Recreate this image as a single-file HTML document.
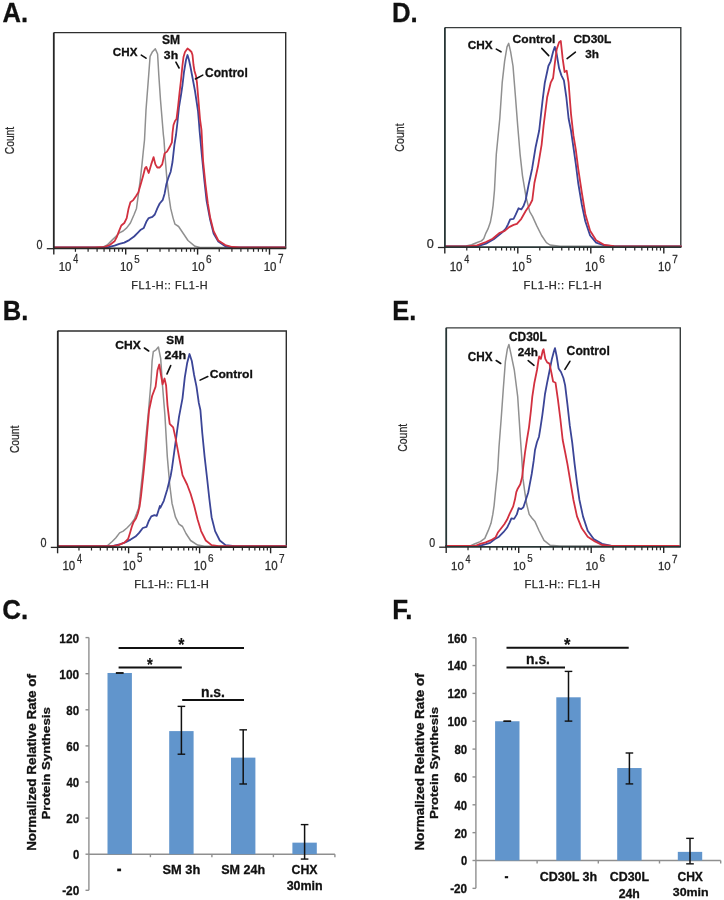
<!DOCTYPE html>
<html><head><meta charset="utf-8"><style>
html,body{margin:0;padding:0;background:#fff;}
body{width:724px;height:900px;overflow:hidden;}
svg{display:block;will-change:transform;}
</style></head><body>
<svg width="724" height="900" viewBox="0 0 724 900" font-family="'Liberation Sans', sans-serif">
<rect width="724" height="900" fill="#fff"/>
<path d="M53.80,32.60 L285.70,32.60 L285.70,248.40" fill="none" stroke="#2e2e2e" stroke-width="1.4"/>
<path d="M54.0,247.5 L100.0,247.5 L102.3,247.4 L107.2,245.0 L112.1,240.1 L115.8,236.5 L119.4,232.8 L123.1,231.0 L126.7,227.9 L130.4,223.0 L134.1,214.5 L136.5,208.4 L138.3,194.9 L140.2,180.3 L142.0,164.4 L143.2,152.2 L144.5,140.0 L146.0,110.0 L148.7,75.0 L150.1,56.3 L152.5,51.7 L155.3,48.9 L157.6,54.0 L158.8,75.0 L160.5,100.0 L163.4,135.0 L164.0,140.0 L165.2,158.3 L167.0,180.3 L168.9,196.2 L170.7,208.4 L173.1,218.1 L175.0,224.2 L178.6,226.5 L183.3,233.5 L188.0,240.5 L195.0,246.3 L200.0,247.5 L285.0,247.5" fill="none" stroke="#909090" stroke-width="1.5" stroke-linejoin="round" stroke-linecap="round"/>
<path d="M54.0,247.5 L105.0,247.5 L107.2,247.4 L114.5,245.6 L119.4,243.8 L124.3,242.6 L129.2,240.1 L134.1,236.5 L137.7,232.8 L140.8,229.7 L143.8,227.9 L146.3,221.8 L148.7,218.1 L152.4,216.9 L154.8,214.5 L157.3,208.4 L159.7,203.5 L162.8,199.8 L164.6,193.7 L166.4,184.0 L168.3,177.9 L170.7,171.7 L172.5,162.0 L174.4,144.9 L176.0,135.0 L177.5,122.0 L179.0,107.0 L181.0,95.0 L182.5,85.0 L184.0,72.0 L186.0,60.0 L187.5,55.0 L189.0,60.0 L190.5,67.0 L192.0,75.0 L193.5,83.0 L195.0,91.0 L196.5,101.0 L198.0,111.0 L199.0,123.0 L199.6,131.0 L202.0,156.6 L204.3,179.9 L206.6,200.8 L210.1,219.5 L213.6,233.5 L218.3,241.6 L225.3,246.3 L235.0,247.5 L285.0,247.5" fill="none" stroke="#3b4597" stroke-width="1.8" stroke-linejoin="round" stroke-linecap="round"/>
<path d="M54.0,247.5 L95.0,247.4 L104.8,246.8 L109.7,245.0 L114.5,241.3 L117.0,236.5 L118.8,231.6 L121.3,225.5 L124.3,223.0 L126.7,218.1 L128.6,208.4 L130.4,202.3 L132.9,200.4 L135.9,196.2 L138.3,192.5 L140.8,184.0 L143.2,175.4 L145.1,168.1 L146.3,166.9 L148.7,173.0 L151.2,164.4 L153.6,157.1 L155.4,164.4 L157.3,167.5 L159.7,167.5 L162.2,164.4 L164.6,153.4 L167.0,151.6 L169.5,147.3 L171.9,142.4 L172.5,133.0 L173.5,125.0 L175.0,121.0 L176.5,119.0 L178.0,107.0 L179.5,93.0 L181.0,80.0 L182.5,65.0 L183.5,57.0 L185.0,52.0 L187.5,48.5 L189.5,50.0 L191.5,52.0 L192.5,55.0 L193.5,65.0 L194.5,71.0 L196.0,76.0 L197.0,83.0 L198.0,95.0 L199.0,107.0 L200.0,119.0 L201.5,130.0 L203.1,161.2 L205.5,184.5 L207.8,203.2 L210.1,217.2 L213.6,231.1 L218.3,240.5 L225.3,245.1 L232.3,247.0 L240.0,247.5 L285.0,247.5" fill="none" stroke="#d2303f" stroke-width="1.8" stroke-linejoin="round" stroke-linecap="round"/>
<path d="M53.80,32.40 L53.80,248.40 L286.20,248.40" fill="none" stroke="#262626" stroke-width="1.8"/>
<line x1="46.80" y1="248.70" x2="53.80" y2="248.70" stroke="#262626" stroke-width="1.3"/>
<line x1="53.80" y1="248.40" x2="53.80" y2="254.60" stroke="#262626" stroke-width="1.4"/>
<line x1="75.44" y1="248.40" x2="75.44" y2="251.80" stroke="#262626" stroke-width="1.2"/>
<line x1="88.11" y1="248.40" x2="88.11" y2="251.80" stroke="#262626" stroke-width="1.2"/>
<line x1="97.09" y1="248.40" x2="97.09" y2="251.80" stroke="#262626" stroke-width="1.2"/>
<line x1="104.06" y1="248.40" x2="104.06" y2="251.80" stroke="#262626" stroke-width="1.2"/>
<line x1="109.75" y1="248.40" x2="109.75" y2="251.80" stroke="#262626" stroke-width="1.2"/>
<line x1="114.56" y1="248.40" x2="114.56" y2="251.80" stroke="#262626" stroke-width="1.2"/>
<line x1="118.73" y1="248.40" x2="118.73" y2="251.80" stroke="#262626" stroke-width="1.2"/>
<line x1="122.41" y1="248.40" x2="122.41" y2="251.80" stroke="#262626" stroke-width="1.2"/>
<line x1="125.70" y1="248.40" x2="125.70" y2="254.60" stroke="#262626" stroke-width="1.4"/>
<line x1="147.34" y1="248.40" x2="147.34" y2="251.80" stroke="#262626" stroke-width="1.2"/>
<line x1="160.01" y1="248.40" x2="160.01" y2="251.80" stroke="#262626" stroke-width="1.2"/>
<line x1="168.99" y1="248.40" x2="168.99" y2="251.80" stroke="#262626" stroke-width="1.2"/>
<line x1="175.96" y1="248.40" x2="175.96" y2="251.80" stroke="#262626" stroke-width="1.2"/>
<line x1="181.65" y1="248.40" x2="181.65" y2="251.80" stroke="#262626" stroke-width="1.2"/>
<line x1="186.46" y1="248.40" x2="186.46" y2="251.80" stroke="#262626" stroke-width="1.2"/>
<line x1="190.63" y1="248.40" x2="190.63" y2="251.80" stroke="#262626" stroke-width="1.2"/>
<line x1="194.31" y1="248.40" x2="194.31" y2="251.80" stroke="#262626" stroke-width="1.2"/>
<line x1="197.60" y1="248.40" x2="197.60" y2="254.60" stroke="#262626" stroke-width="1.4"/>
<line x1="219.24" y1="248.40" x2="219.24" y2="251.80" stroke="#262626" stroke-width="1.2"/>
<line x1="231.91" y1="248.40" x2="231.91" y2="251.80" stroke="#262626" stroke-width="1.2"/>
<line x1="240.89" y1="248.40" x2="240.89" y2="251.80" stroke="#262626" stroke-width="1.2"/>
<line x1="247.86" y1="248.40" x2="247.86" y2="251.80" stroke="#262626" stroke-width="1.2"/>
<line x1="253.55" y1="248.40" x2="253.55" y2="251.80" stroke="#262626" stroke-width="1.2"/>
<line x1="258.36" y1="248.40" x2="258.36" y2="251.80" stroke="#262626" stroke-width="1.2"/>
<line x1="262.53" y1="248.40" x2="262.53" y2="251.80" stroke="#262626" stroke-width="1.2"/>
<line x1="266.21" y1="248.40" x2="266.21" y2="251.80" stroke="#262626" stroke-width="1.2"/>
<line x1="269.50" y1="248.40" x2="269.50" y2="254.60" stroke="#262626" stroke-width="1.4"/>
<line x1="141.30" y1="55.20" x2="146.00" y2="58.20" stroke="#111" stroke-width="1.6" stroke-linecap="round"/>
<line x1="175.90" y1="62.10" x2="179.10" y2="68.00" stroke="#111" stroke-width="1.6" stroke-linecap="round"/>
<line x1="195.40" y1="79.00" x2="202.80" y2="75.10" stroke="#111" stroke-width="1.6" stroke-linecap="round"/>
<path d="M57.80,331.00 L286.30,331.00 L286.30,547.10" fill="none" stroke="#2e2e2e" stroke-width="1.4"/>
<path d="M58.0,546.2 L106.0,546.2 L107.3,545.7 L112.2,541.5 L115.9,537.8 L119.6,532.9 L123.2,531.1 L126.9,528.0 L130.6,524.3 L134.2,519.5 L136.7,513.3 L138.5,508.5 L139.3,503.2 L142.8,470.5 L146.3,433.2 L148.6,410.0 L151.0,382.0 L152.1,361.0 L153.3,351.7 L156.1,349.8 L158.4,347.0 L160.7,358.6 L162.6,386.6 L164.9,415.0 L167.3,456.6 L169.7,484.5 L172.0,503.2 L175.5,517.2 L179.0,524.2 L182.5,526.5 L186.0,533.5 L190.6,540.5 L197.6,545.1 L204.6,546.2 L286.0,546.2" fill="none" stroke="#909090" stroke-width="1.5" stroke-linejoin="round" stroke-linecap="round"/>
<path d="M58.0,546.2 L112.2,546.2 L119.6,544.5 L125.7,542.1 L130.6,539.6 L135.5,536.6 L139.1,532.9 L142.8,528.0 L146.5,526.8 L148.9,520.7 L151.3,516.4 L154.4,515.2 L156.8,515.8 L159.9,506.0 L160.3,507.8 L163.8,500.8 L167.3,489.2 L170.8,475.2 L172.0,468.2 L175.5,442.6 L179.0,416.9 L182.5,398.3 L184.8,377.3 L187.1,363.3 L189.5,354.0 L191.8,361.0 L194.1,375.0 L196.5,386.6 L198.8,402.9 L200.4,410.0 L202.3,433.2 L204.6,456.6 L207.0,477.5 L209.3,498.5 L211.6,517.2 L215.1,531.1 L219.8,540.5 L225.6,545.1 L234.9,546.2 L286.0,546.2" fill="none" stroke="#3b4597" stroke-width="1.8" stroke-linejoin="round" stroke-linecap="round"/>
<path d="M58.0,546.2 L112.2,546.2 L118.3,545.1 L124.4,542.7 L128.1,539.0 L130.0,532.9 L131.8,526.8 L133.6,521.9 L136.1,518.2 L137.9,513.3 L139.7,506.0 L141.0,496.2 L142.2,485.2 L143.4,474.2 L144.6,462.0 L145.8,449.8 L146.5,440.0 L149.1,410.0 L152.1,396.0 L155.6,386.6 L157.5,370.3 L159.3,364.5 L161.0,375.0 L162.6,384.3 L164.5,378.5 L166.1,385.5 L167.5,405.3 L169.7,423.9 L173.2,427.4 L175.5,437.9 L179.0,456.6 L182.5,475.2 L187.1,484.5 L190.6,493.8 L194.1,505.5 L197.6,519.5 L201.1,531.1 L205.8,540.5 L211.6,545.1 L218.6,546.2 L286.0,546.2" fill="none" stroke="#d2303f" stroke-width="1.8" stroke-linejoin="round" stroke-linecap="round"/>
<path d="M57.80,330.80 L57.80,547.10 L286.80,547.10" fill="none" stroke="#262626" stroke-width="1.8"/>
<line x1="50.80" y1="547.40" x2="57.80" y2="547.40" stroke="#262626" stroke-width="1.3"/>
<line x1="57.60" y1="547.10" x2="57.60" y2="553.30" stroke="#262626" stroke-width="1.4"/>
<line x1="78.97" y1="547.10" x2="78.97" y2="550.50" stroke="#262626" stroke-width="1.2"/>
<line x1="91.48" y1="547.10" x2="91.48" y2="550.50" stroke="#262626" stroke-width="1.2"/>
<line x1="100.35" y1="547.10" x2="100.35" y2="550.50" stroke="#262626" stroke-width="1.2"/>
<line x1="107.23" y1="547.10" x2="107.23" y2="550.50" stroke="#262626" stroke-width="1.2"/>
<line x1="112.85" y1="547.10" x2="112.85" y2="550.50" stroke="#262626" stroke-width="1.2"/>
<line x1="117.60" y1="547.10" x2="117.60" y2="550.50" stroke="#262626" stroke-width="1.2"/>
<line x1="121.72" y1="547.10" x2="121.72" y2="550.50" stroke="#262626" stroke-width="1.2"/>
<line x1="125.35" y1="547.10" x2="125.35" y2="550.50" stroke="#262626" stroke-width="1.2"/>
<line x1="128.60" y1="547.10" x2="128.60" y2="553.30" stroke="#262626" stroke-width="1.4"/>
<line x1="149.97" y1="547.10" x2="149.97" y2="550.50" stroke="#262626" stroke-width="1.2"/>
<line x1="162.48" y1="547.10" x2="162.48" y2="550.50" stroke="#262626" stroke-width="1.2"/>
<line x1="171.35" y1="547.10" x2="171.35" y2="550.50" stroke="#262626" stroke-width="1.2"/>
<line x1="178.23" y1="547.10" x2="178.23" y2="550.50" stroke="#262626" stroke-width="1.2"/>
<line x1="183.85" y1="547.10" x2="183.85" y2="550.50" stroke="#262626" stroke-width="1.2"/>
<line x1="188.60" y1="547.10" x2="188.60" y2="550.50" stroke="#262626" stroke-width="1.2"/>
<line x1="192.72" y1="547.10" x2="192.72" y2="550.50" stroke="#262626" stroke-width="1.2"/>
<line x1="196.35" y1="547.10" x2="196.35" y2="550.50" stroke="#262626" stroke-width="1.2"/>
<line x1="199.60" y1="547.10" x2="199.60" y2="553.30" stroke="#262626" stroke-width="1.4"/>
<line x1="220.97" y1="547.10" x2="220.97" y2="550.50" stroke="#262626" stroke-width="1.2"/>
<line x1="233.48" y1="547.10" x2="233.48" y2="550.50" stroke="#262626" stroke-width="1.2"/>
<line x1="242.35" y1="547.10" x2="242.35" y2="550.50" stroke="#262626" stroke-width="1.2"/>
<line x1="249.23" y1="547.10" x2="249.23" y2="550.50" stroke="#262626" stroke-width="1.2"/>
<line x1="254.85" y1="547.10" x2="254.85" y2="550.50" stroke="#262626" stroke-width="1.2"/>
<line x1="259.60" y1="547.10" x2="259.60" y2="550.50" stroke="#262626" stroke-width="1.2"/>
<line x1="263.72" y1="547.10" x2="263.72" y2="550.50" stroke="#262626" stroke-width="1.2"/>
<line x1="267.35" y1="547.10" x2="267.35" y2="550.50" stroke="#262626" stroke-width="1.2"/>
<line x1="270.60" y1="547.10" x2="270.60" y2="553.30" stroke="#262626" stroke-width="1.4"/>
<line x1="144.40" y1="348.00" x2="148.70" y2="351.00" stroke="#111" stroke-width="1.6" stroke-linecap="round"/>
<line x1="170.70" y1="365.60" x2="167.00" y2="373.90" stroke="#111" stroke-width="1.6" stroke-linecap="round"/>
<line x1="200.10" y1="380.10" x2="207.80" y2="376.50" stroke="#111" stroke-width="1.6" stroke-linecap="round"/>
<path d="M444.90,27.60 L680.80,27.60 L680.80,247.20" fill="none" stroke="#383d3d" stroke-width="1.4"/>
<path d="M445.0,246.3 L455.0,246.3 L466.0,245.9 L471.6,244.8 L477.1,242.5 L481.5,240.9 L483.7,238.7 L485.9,233.1 L488.1,228.7 L490.4,222.1 L492.0,213.3 L493.1,205.5 L494.5,190.0 L496.3,154.3 L499.8,118.5 L502.2,82.7 L504.6,61.3 L507.0,46.9 L508.7,43.4 L510.6,51.7 L513.0,66.0 L515.3,94.7 L517.7,125.7 L520.1,154.3 L522.5,175.8 L526.1,197.3 L529.7,211.6 L532.5,216.4 L536.8,225.9 L541.6,235.5 L546.4,242.6 L550.0,245.0 L560.0,246.3 L681.0,246.3" fill="none" stroke="#909090" stroke-width="1.5" stroke-linejoin="round" stroke-linecap="round"/>
<path d="M445.0,246.3 L470.0,246.3 L477.1,246.3 L485.9,243.6 L493.7,239.2 L501.4,233.1 L505.8,228.7 L508.0,224.3 L510.2,219.3 L513.6,218.8 L515.8,214.4 L518.5,208.3 L521.3,209.4 L523.5,206.1 L525.7,200.0 L528.5,185.4 L532.1,168.7 L535.6,147.2 L539.2,130.5 L542.4,101.8 L544.8,82.7 L548.4,66.0 L550.7,61.3 L553.1,51.7 L554.8,46.9 L556.7,54.1 L559.1,68.4 L561.5,75.6 L563.9,80.3 L566.3,97.0 L568.6,118.5 L571.0,130.5 L573.4,147.2 L575.8,163.9 L578.2,183.0 L581.8,204.5 L585.3,221.2 L590.1,235.5 L596.1,242.6 L604.4,245.5 L614.0,246.2 L681.0,246.3" fill="none" stroke="#3b4597" stroke-width="1.8" stroke-linejoin="round" stroke-linecap="round"/>
<path d="M445.0,246.3 L466.0,246.3 L477.1,245.3 L485.9,242.0 L492.6,238.7 L499.2,233.1 L504.7,230.9 L509.1,227.1 L513.6,224.9 L516.9,223.8 L521.3,218.8 L525.7,211.0 L530.1,204.4 L532.3,200.0 L534.4,183.0 L538.0,166.3 L541.6,144.8 L543.6,125.7 L547.2,97.0 L550.7,82.7 L553.1,78.0 L554.8,63.6 L556.7,49.3 L559.1,42.2 L560.8,41.0 L562.7,58.9 L564.6,72.0 L566.7,70.8 L568.6,82.7 L571.0,113.8 L573.4,135.2 L575.8,149.6 L578.2,168.7 L581.8,192.5 L585.3,214.0 L590.1,230.7 L596.1,240.3 L604.4,245.0 L614.0,246.2 L681.0,246.3" fill="none" stroke="#d2303f" stroke-width="1.8" stroke-linejoin="round" stroke-linecap="round"/>
<path d="M444.90,27.40 L444.90,247.20 L681.30,247.20" fill="none" stroke="#283636" stroke-width="1.8"/>
<line x1="437.90" y1="247.50" x2="444.90" y2="247.50" stroke="#262626" stroke-width="1.3"/>
<line x1="444.80" y1="247.20" x2="444.80" y2="253.40" stroke="#262626" stroke-width="1.4"/>
<line x1="466.78" y1="247.20" x2="466.78" y2="250.60" stroke="#262626" stroke-width="1.2"/>
<line x1="479.63" y1="247.20" x2="479.63" y2="250.60" stroke="#262626" stroke-width="1.2"/>
<line x1="488.75" y1="247.20" x2="488.75" y2="250.60" stroke="#262626" stroke-width="1.2"/>
<line x1="495.82" y1="247.20" x2="495.82" y2="250.60" stroke="#262626" stroke-width="1.2"/>
<line x1="501.61" y1="247.20" x2="501.61" y2="250.60" stroke="#262626" stroke-width="1.2"/>
<line x1="506.49" y1="247.20" x2="506.49" y2="250.60" stroke="#262626" stroke-width="1.2"/>
<line x1="510.73" y1="247.20" x2="510.73" y2="250.60" stroke="#262626" stroke-width="1.2"/>
<line x1="514.46" y1="247.20" x2="514.46" y2="250.60" stroke="#262626" stroke-width="1.2"/>
<line x1="517.80" y1="247.20" x2="517.80" y2="253.40" stroke="#262626" stroke-width="1.4"/>
<line x1="539.78" y1="247.20" x2="539.78" y2="250.60" stroke="#262626" stroke-width="1.2"/>
<line x1="552.63" y1="247.20" x2="552.63" y2="250.60" stroke="#262626" stroke-width="1.2"/>
<line x1="561.75" y1="247.20" x2="561.75" y2="250.60" stroke="#262626" stroke-width="1.2"/>
<line x1="568.82" y1="247.20" x2="568.82" y2="250.60" stroke="#262626" stroke-width="1.2"/>
<line x1="574.61" y1="247.20" x2="574.61" y2="250.60" stroke="#262626" stroke-width="1.2"/>
<line x1="579.49" y1="247.20" x2="579.49" y2="250.60" stroke="#262626" stroke-width="1.2"/>
<line x1="583.73" y1="247.20" x2="583.73" y2="250.60" stroke="#262626" stroke-width="1.2"/>
<line x1="587.46" y1="247.20" x2="587.46" y2="250.60" stroke="#262626" stroke-width="1.2"/>
<line x1="590.80" y1="247.20" x2="590.80" y2="253.40" stroke="#262626" stroke-width="1.4"/>
<line x1="612.78" y1="247.20" x2="612.78" y2="250.60" stroke="#262626" stroke-width="1.2"/>
<line x1="625.63" y1="247.20" x2="625.63" y2="250.60" stroke="#262626" stroke-width="1.2"/>
<line x1="634.75" y1="247.20" x2="634.75" y2="250.60" stroke="#262626" stroke-width="1.2"/>
<line x1="641.82" y1="247.20" x2="641.82" y2="250.60" stroke="#262626" stroke-width="1.2"/>
<line x1="647.61" y1="247.20" x2="647.61" y2="250.60" stroke="#262626" stroke-width="1.2"/>
<line x1="652.49" y1="247.20" x2="652.49" y2="250.60" stroke="#262626" stroke-width="1.2"/>
<line x1="656.73" y1="247.20" x2="656.73" y2="250.60" stroke="#262626" stroke-width="1.2"/>
<line x1="660.46" y1="247.20" x2="660.46" y2="250.60" stroke="#262626" stroke-width="1.2"/>
<line x1="663.80" y1="247.20" x2="663.80" y2="253.40" stroke="#262626" stroke-width="1.4"/>
<line x1="496.30" y1="49.10" x2="501.00" y2="51.80" stroke="#111" stroke-width="1.6" stroke-linecap="round"/>
<line x1="541.80" y1="48.40" x2="548.70" y2="55.60" stroke="#111" stroke-width="1.6" stroke-linecap="round"/>
<line x1="567.10" y1="58.60" x2="575.40" y2="52.20" stroke="#111" stroke-width="1.6" stroke-linecap="round"/>
<path d="M446.20,327.90 L680.30,327.90 L680.30,546.90" fill="none" stroke="#383d3d" stroke-width="1.4"/>
<path d="M446.0,546.0 L465.0,546.0 L470.0,546.0 L475.0,543.8 L480.3,541.6 L484.8,538.4 L488.3,530.4 L491.0,523.3 L492.8,514.4 L494.1,505.6 L495.4,492.2 L496.8,478.9 L497.7,470.0 L499.0,447.0 L501.2,418.5 L503.4,387.5 L505.4,361.3 L507.3,349.3 L508.9,344.5 L511.0,354.1 L514.3,370.0 L517.7,396.7 L519.0,416.7 L520.3,436.7 L521.7,456.7 L523.0,478.9 L524.8,492.2 L526.6,503.8 L529.2,514.4 L531.9,518.0 L535.0,521.6 L539.2,531.0 L544.0,540.4 L550.0,545.2 L560.0,546.0 L679.0,546.0" fill="none" stroke="#909090" stroke-width="1.5" stroke-linejoin="round" stroke-linecap="round"/>
<path d="M446.0,546.0 L475.0,546.0 L480.3,545.6 L485.7,544.2 L490.1,542.9 L494.6,539.3 L499.0,536.7 L503.4,532.2 L507.0,527.8 L509.7,522.4 L511.4,518.4 L514.1,518.9 L516.8,514.4 L518.6,508.2 L521.2,509.1 L523.4,507.3 L525.7,500.2 L528.3,492.2 L529.7,484.7 L531.7,474.0 L533.7,460.7 L535.0,450.0 L537.0,442.0 L539.0,436.7 L540.3,428.7 L542.3,415.3 L543.7,404.7 L545.0,394.0 L547.0,383.3 L549.7,370.0 L551.9,358.9 L553.8,351.7 L555.0,348.1 L556.7,356.5 L558.6,368.4 L561.0,372.0 L563.4,378.0 L565.1,385.1 L567.4,404.2 L569.8,425.7 L572.2,442.4 L574.6,463.9 L577.0,483.0 L579.4,499.7 L583.0,516.4 L587.7,530.7 L593.7,539.1 L602.1,543.8 L611.6,546.0 L679.0,546.0" fill="none" stroke="#3b4597" stroke-width="1.8" stroke-linejoin="round" stroke-linecap="round"/>
<path d="M446.0,546.0 L472.0,546.0 L475.0,546.0 L480.3,543.8 L485.7,542.4 L491.0,540.2 L495.4,537.6 L498.1,532.2 L500.8,528.7 L504.3,524.2 L507.0,519.8 L509.7,513.6 L513.2,506.4 L515.0,499.3 L516.3,492.2 L517.7,488.7 L520.3,484.2 L522.1,477.1 L523.5,465.0 L525.0,452.7 L527.0,439.3 L529.0,427.3 L531.0,410.0 L532.3,396.7 L534.3,383.3 L537.0,370.0 L538.5,360.0 L539.2,356.5 L540.9,358.9 L542.8,350.5 L543.6,349.3 L545.3,358.9 L547.2,362.4 L549.5,363.6 L551.5,373.2 L553.1,381.5 L555.5,382.7 L557.9,399.4 L560.3,418.5 L562.7,440.0 L565.1,452.0 L567.4,463.9 L569.8,478.2 L573.4,499.7 L577.0,516.4 L581.8,528.3 L587.7,536.7 L594.9,541.4 L602.1,545.0 L611.6,546.0 L679.0,546.0" fill="none" stroke="#d2303f" stroke-width="1.8" stroke-linejoin="round" stroke-linecap="round"/>
<path d="M446.20,327.70 L446.20,546.90 L680.80,546.90" fill="none" stroke="#283636" stroke-width="1.8"/>
<line x1="439.20" y1="547.20" x2="446.20" y2="547.20" stroke="#262626" stroke-width="1.3"/>
<line x1="446.20" y1="546.90" x2="446.20" y2="553.10" stroke="#262626" stroke-width="1.4"/>
<line x1="468.02" y1="546.90" x2="468.02" y2="550.30" stroke="#262626" stroke-width="1.2"/>
<line x1="480.79" y1="546.90" x2="480.79" y2="550.30" stroke="#262626" stroke-width="1.2"/>
<line x1="489.85" y1="546.90" x2="489.85" y2="550.30" stroke="#262626" stroke-width="1.2"/>
<line x1="496.88" y1="546.90" x2="496.88" y2="550.30" stroke="#262626" stroke-width="1.2"/>
<line x1="502.62" y1="546.90" x2="502.62" y2="550.30" stroke="#262626" stroke-width="1.2"/>
<line x1="507.47" y1="546.90" x2="507.47" y2="550.30" stroke="#262626" stroke-width="1.2"/>
<line x1="511.67" y1="546.90" x2="511.67" y2="550.30" stroke="#262626" stroke-width="1.2"/>
<line x1="515.38" y1="546.90" x2="515.38" y2="550.30" stroke="#262626" stroke-width="1.2"/>
<line x1="518.70" y1="546.90" x2="518.70" y2="553.10" stroke="#262626" stroke-width="1.4"/>
<line x1="540.52" y1="546.90" x2="540.52" y2="550.30" stroke="#262626" stroke-width="1.2"/>
<line x1="553.29" y1="546.90" x2="553.29" y2="550.30" stroke="#262626" stroke-width="1.2"/>
<line x1="562.35" y1="546.90" x2="562.35" y2="550.30" stroke="#262626" stroke-width="1.2"/>
<line x1="569.38" y1="546.90" x2="569.38" y2="550.30" stroke="#262626" stroke-width="1.2"/>
<line x1="575.12" y1="546.90" x2="575.12" y2="550.30" stroke="#262626" stroke-width="1.2"/>
<line x1="579.97" y1="546.90" x2="579.97" y2="550.30" stroke="#262626" stroke-width="1.2"/>
<line x1="584.17" y1="546.90" x2="584.17" y2="550.30" stroke="#262626" stroke-width="1.2"/>
<line x1="587.88" y1="546.90" x2="587.88" y2="550.30" stroke="#262626" stroke-width="1.2"/>
<line x1="591.20" y1="546.90" x2="591.20" y2="553.10" stroke="#262626" stroke-width="1.4"/>
<line x1="613.02" y1="546.90" x2="613.02" y2="550.30" stroke="#262626" stroke-width="1.2"/>
<line x1="625.79" y1="546.90" x2="625.79" y2="550.30" stroke="#262626" stroke-width="1.2"/>
<line x1="634.85" y1="546.90" x2="634.85" y2="550.30" stroke="#262626" stroke-width="1.2"/>
<line x1="641.88" y1="546.90" x2="641.88" y2="550.30" stroke="#262626" stroke-width="1.2"/>
<line x1="647.62" y1="546.90" x2="647.62" y2="550.30" stroke="#262626" stroke-width="1.2"/>
<line x1="652.47" y1="546.90" x2="652.47" y2="550.30" stroke="#262626" stroke-width="1.2"/>
<line x1="656.67" y1="546.90" x2="656.67" y2="550.30" stroke="#262626" stroke-width="1.2"/>
<line x1="660.38" y1="546.90" x2="660.38" y2="550.30" stroke="#262626" stroke-width="1.2"/>
<line x1="663.70" y1="546.90" x2="663.70" y2="553.10" stroke="#262626" stroke-width="1.4"/>
<line x1="496.20" y1="360.50" x2="500.70" y2="363.50" stroke="#111" stroke-width="1.6" stroke-linecap="round"/>
<line x1="528.20" y1="360.60" x2="534.00" y2="365.30" stroke="#111" stroke-width="1.6" stroke-linecap="round"/>
<line x1="564.90" y1="369.30" x2="569.90" y2="361.30" stroke="#111" stroke-width="1.6" stroke-linecap="round"/>
<line x1="88.90" y1="637.60" x2="88.90" y2="890.30" stroke="#8f8f8f" stroke-width="1.4"/>
<line x1="85.50" y1="890.30" x2="88.90" y2="890.30" stroke="#8f8f8f" stroke-width="1.4"/>
<line x1="85.50" y1="854.20" x2="88.90" y2="854.20" stroke="#8f8f8f" stroke-width="1.4"/>
<line x1="85.50" y1="818.10" x2="88.90" y2="818.10" stroke="#8f8f8f" stroke-width="1.4"/>
<line x1="85.50" y1="782.00" x2="88.90" y2="782.00" stroke="#8f8f8f" stroke-width="1.4"/>
<line x1="85.50" y1="745.90" x2="88.90" y2="745.90" stroke="#8f8f8f" stroke-width="1.4"/>
<line x1="85.50" y1="709.80" x2="88.90" y2="709.80" stroke="#8f8f8f" stroke-width="1.4"/>
<line x1="85.50" y1="673.70" x2="88.90" y2="673.70" stroke="#8f8f8f" stroke-width="1.4"/>
<line x1="85.50" y1="637.60" x2="88.90" y2="637.60" stroke="#8f8f8f" stroke-width="1.4"/>
<line x1="88.90" y1="854.20" x2="334.90" y2="854.20" stroke="#8f8f8f" stroke-width="1.4"/>
<line x1="150.40" y1="854.20" x2="150.40" y2="857.20" stroke="#8f8f8f" stroke-width="1.4"/>
<line x1="211.90" y1="854.20" x2="211.90" y2="857.20" stroke="#8f8f8f" stroke-width="1.4"/>
<line x1="273.40" y1="854.20" x2="273.40" y2="857.20" stroke="#8f8f8f" stroke-width="1.4"/>
<line x1="334.90" y1="854.20" x2="334.90" y2="857.20" stroke="#8f8f8f" stroke-width="1.4"/>
<rect x="107.50" y="672.98" width="24.40" height="181.22" fill="#6195cc"/>
<rect x="169.20" y="731.10" width="24.40" height="123.10" fill="#6195cc"/>
<rect x="231.00" y="757.63" width="24.40" height="96.57" fill="#6195cc"/>
<rect x="292.40" y="842.65" width="24.40" height="11.55" fill="#6195cc"/>
<line x1="119.70" y1="672.98" x2="119.70" y2="672.98" stroke="#111" stroke-width="1.5"/>
<line x1="115.90" y1="672.98" x2="123.50" y2="672.98" stroke="#111" stroke-width="1.4"/>
<line x1="115.90" y1="672.98" x2="123.50" y2="672.98" stroke="#111" stroke-width="1.4"/>
<line x1="181.40" y1="706.37" x2="181.40" y2="754.20" stroke="#111" stroke-width="1.5"/>
<line x1="177.60" y1="706.37" x2="185.20" y2="706.37" stroke="#111" stroke-width="1.4"/>
<line x1="177.60" y1="754.20" x2="185.20" y2="754.20" stroke="#111" stroke-width="1.4"/>
<line x1="243.20" y1="729.84" x2="243.20" y2="783.99" stroke="#111" stroke-width="1.5"/>
<line x1="239.40" y1="729.84" x2="247.00" y2="729.84" stroke="#111" stroke-width="1.4"/>
<line x1="239.40" y1="783.99" x2="247.00" y2="783.99" stroke="#111" stroke-width="1.4"/>
<line x1="304.60" y1="824.60" x2="304.60" y2="859.07" stroke="#111" stroke-width="1.5"/>
<line x1="300.80" y1="824.60" x2="308.40" y2="824.60" stroke="#111" stroke-width="1.4"/>
<line x1="300.80" y1="859.07" x2="308.40" y2="859.07" stroke="#111" stroke-width="1.4"/>
<line x1="118.60" y1="647.90" x2="244.00" y2="647.90" stroke="#111" stroke-width="2.0"/>
<line x1="118.60" y1="667.50" x2="181.80" y2="667.50" stroke="#111" stroke-width="2.0"/>
<line x1="182.20" y1="700.00" x2="244.00" y2="700.00" stroke="#111" stroke-width="2.0"/>
<line x1="475.90" y1="637.70" x2="475.90" y2="888.35" stroke="#8f8f8f" stroke-width="1.4"/>
<line x1="472.50" y1="888.35" x2="475.90" y2="888.35" stroke="#8f8f8f" stroke-width="1.4"/>
<line x1="472.50" y1="860.50" x2="475.90" y2="860.50" stroke="#8f8f8f" stroke-width="1.4"/>
<line x1="472.50" y1="832.65" x2="475.90" y2="832.65" stroke="#8f8f8f" stroke-width="1.4"/>
<line x1="472.50" y1="804.80" x2="475.90" y2="804.80" stroke="#8f8f8f" stroke-width="1.4"/>
<line x1="472.50" y1="776.95" x2="475.90" y2="776.95" stroke="#8f8f8f" stroke-width="1.4"/>
<line x1="472.50" y1="749.10" x2="475.90" y2="749.10" stroke="#8f8f8f" stroke-width="1.4"/>
<line x1="472.50" y1="721.25" x2="475.90" y2="721.25" stroke="#8f8f8f" stroke-width="1.4"/>
<line x1="472.50" y1="693.40" x2="475.90" y2="693.40" stroke="#8f8f8f" stroke-width="1.4"/>
<line x1="472.50" y1="665.55" x2="475.90" y2="665.55" stroke="#8f8f8f" stroke-width="1.4"/>
<line x1="472.50" y1="637.70" x2="475.90" y2="637.70" stroke="#8f8f8f" stroke-width="1.4"/>
<line x1="475.90" y1="860.50" x2="720.70" y2="860.50" stroke="#8f8f8f" stroke-width="1.4"/>
<line x1="537.10" y1="860.50" x2="537.10" y2="863.50" stroke="#8f8f8f" stroke-width="1.4"/>
<line x1="598.30" y1="860.50" x2="598.30" y2="863.50" stroke="#8f8f8f" stroke-width="1.4"/>
<line x1="659.50" y1="860.50" x2="659.50" y2="863.50" stroke="#8f8f8f" stroke-width="1.4"/>
<line x1="720.70" y1="860.50" x2="720.70" y2="863.50" stroke="#8f8f8f" stroke-width="1.4"/>
<rect x="495.10" y="721.25" width="24.40" height="139.25" fill="#6195cc"/>
<rect x="556.30" y="697.30" width="24.40" height="163.20" fill="#6195cc"/>
<rect x="617.20" y="768.04" width="24.40" height="92.46" fill="#6195cc"/>
<rect x="677.80" y="851.87" width="24.40" height="8.63" fill="#6195cc"/>
<line x1="507.30" y1="721.25" x2="507.30" y2="721.25" stroke="#111" stroke-width="1.5"/>
<line x1="503.50" y1="721.25" x2="511.10" y2="721.25" stroke="#111" stroke-width="1.4"/>
<line x1="503.50" y1="721.25" x2="511.10" y2="721.25" stroke="#111" stroke-width="1.4"/>
<line x1="568.50" y1="671.40" x2="568.50" y2="721.11" stroke="#111" stroke-width="1.5"/>
<line x1="564.70" y1="671.40" x2="572.30" y2="671.40" stroke="#111" stroke-width="1.4"/>
<line x1="564.70" y1="721.11" x2="572.30" y2="721.11" stroke="#111" stroke-width="1.4"/>
<line x1="629.40" y1="753.00" x2="629.40" y2="783.91" stroke="#111" stroke-width="1.5"/>
<line x1="625.60" y1="753.00" x2="633.20" y2="753.00" stroke="#111" stroke-width="1.4"/>
<line x1="625.60" y1="783.91" x2="633.20" y2="783.91" stroke="#111" stroke-width="1.4"/>
<line x1="690.00" y1="838.36" x2="690.00" y2="863.84" stroke="#111" stroke-width="1.5"/>
<line x1="686.20" y1="838.36" x2="693.80" y2="838.36" stroke="#111" stroke-width="1.4"/>
<line x1="686.20" y1="863.84" x2="693.80" y2="863.84" stroke="#111" stroke-width="1.4"/>
<line x1="506.50" y1="647.70" x2="628.70" y2="647.70" stroke="#111" stroke-width="2.0"/>
<line x1="506.50" y1="667.40" x2="565.00" y2="667.40" stroke="#111" stroke-width="2.0"/>
<text transform="translate(2.43,21.70) scale(0.9379,1)" font-size="27.246" font-weight="bold" fill="#111" stroke="#111" stroke-width="0.3">A.</text>
<text transform="translate(2.71,320.10) scale(0.9389,1)" font-size="27.246" font-weight="bold" fill="#111" stroke="#111" stroke-width="0.3">B.</text>
<text transform="translate(2.36,618.83) scale(0.9499,1)" font-size="27.324" font-weight="bold" fill="#111" stroke="#111" stroke-width="0.3">C.</text>
<text transform="translate(391.99,21.70) scale(0.9375,1)" font-size="27.536" font-weight="bold" fill="#111" stroke="#111" stroke-width="0.3">D.</text>
<text transform="translate(392.32,320.10) scale(0.9334,1)" font-size="27.246" font-weight="bold" fill="#111" stroke="#111" stroke-width="0.3">E.</text>
<text transform="translate(392.28,618.90) scale(0.9419,1)" font-size="27.536" font-weight="bold" fill="#111" stroke="#111" stroke-width="0.3">F.</text>
<text transform="translate(58.68,270.83) scale(0.9397,1)" font-size="12.254" fill="#2a2a2a" stroke="#2a2a2a" stroke-width="0.25">10</text>
<text transform="translate(73.22,262.97) scale(0.7480,1)" font-size="12.059" fill="#2a2a2a" stroke="#2a2a2a" stroke-width="0.25">4</text>
<text transform="translate(119.88,270.83) scale(0.9397,1)" font-size="12.254" fill="#2a2a2a" stroke="#2a2a2a" stroke-width="0.25">10</text>
<text transform="translate(134.21,262.73) scale(0.8355,1)" font-size="11.714" fill="#2a2a2a" stroke="#2a2a2a" stroke-width="0.25">5</text>
<text transform="translate(191.78,270.83) scale(0.9397,1)" font-size="12.254" fill="#2a2a2a" stroke="#2a2a2a" stroke-width="0.25">10</text>
<text transform="translate(206.00,262.73) scale(0.8659,1)" font-size="11.549" fill="#2a2a2a" stroke="#2a2a2a" stroke-width="0.25">6</text>
<text transform="translate(263.68,270.83) scale(0.9397,1)" font-size="12.254" fill="#2a2a2a" stroke="#2a2a2a" stroke-width="0.25">10</text>
<text transform="translate(277.90,262.97) scale(0.8293,1)" font-size="12.059" fill="#2a2a2a" stroke="#2a2a2a" stroke-width="0.25">7</text>
<text transform="translate(36.47,249.02) scale(0.8546,1)" font-size="12.676" fill="#2a2a2a" stroke="#2a2a2a" stroke-width="0.25">0</text>
<text transform="translate(131.23,289.15) scale(1.0000,1)" font-size="10.870" letter-spacing="0.574" fill="#2a2a2a" stroke="#2a2a2a" stroke-width="0.25">FL1-H:: FL1-H</text>
<text transform="translate(14.42,154.32) rotate(-90) scale(0.7731,1)" font-size="13.380" fill="#2a2a2a" stroke="#2a2a2a" stroke-width="0.25">Count</text>
<text transform="translate(112.83,55.99) scale(1.0212,1)" font-size="11.408" font-weight="bold" fill="#111" stroke="#111" stroke-width="0.3">CHX</text>
<text transform="translate(162.04,44.38) scale(1.0083,1)" font-size="11.972" font-weight="bold" fill="#111" stroke="#111" stroke-width="0.3">SM</text>
<text transform="translate(163.86,58.99) scale(1.0897,1)" font-size="11.216" font-weight="bold" fill="#111" stroke="#111" stroke-width="0.3">3h</text>
<text transform="translate(205.12,77.18) scale(0.9763,1)" font-size="12.297" font-weight="bold" fill="#111" stroke="#111" stroke-width="0.3">Control</text>
<text transform="translate(62.48,569.93) scale(0.9507,1)" font-size="12.113" fill="#2a2a2a" stroke="#2a2a2a" stroke-width="0.25">10</text>
<text transform="translate(77.02,562.57) scale(0.7390,1)" font-size="12.206" fill="#2a2a2a" stroke="#2a2a2a" stroke-width="0.25">4</text>
<text transform="translate(122.78,569.93) scale(0.9507,1)" font-size="12.113" fill="#2a2a2a" stroke="#2a2a2a" stroke-width="0.25">10</text>
<text transform="translate(137.11,562.33) scale(0.8254,1)" font-size="11.857" fill="#2a2a2a" stroke="#2a2a2a" stroke-width="0.25">5</text>
<text transform="translate(193.78,569.93) scale(0.9507,1)" font-size="12.113" fill="#2a2a2a" stroke="#2a2a2a" stroke-width="0.25">10</text>
<text transform="translate(208.00,562.33) scale(0.8554,1)" font-size="11.690" fill="#2a2a2a" stroke="#2a2a2a" stroke-width="0.25">6</text>
<text transform="translate(264.78,569.93) scale(0.9507,1)" font-size="12.113" fill="#2a2a2a" stroke="#2a2a2a" stroke-width="0.25">10</text>
<text transform="translate(279.00,562.57) scale(0.8193,1)" font-size="12.206" fill="#2a2a2a" stroke="#2a2a2a" stroke-width="0.25">7</text>
<text transform="translate(40.47,547.22) scale(0.8546,1)" font-size="12.676" fill="#2a2a2a" stroke="#2a2a2a" stroke-width="0.25">0</text>
<text transform="translate(134.21,588.15) scale(1.0000,1)" font-size="11.159" letter-spacing="0.281" fill="#2a2a2a" stroke="#2a2a2a" stroke-width="0.25">FL1-H:: FL1-H</text>
<text transform="translate(18.52,453.12) rotate(-90) scale(0.7898,1)" font-size="13.099" fill="#2a2a2a" stroke="#2a2a2a" stroke-width="0.25">Count</text>
<text transform="translate(115.32,348.68) scale(1.0340,1)" font-size="11.690" font-weight="bold" fill="#111" stroke="#111" stroke-width="0.3">CHX</text>
<text transform="translate(166.35,344.18) scale(1.0082,1)" font-size="11.690" font-weight="bold" fill="#111" stroke="#111" stroke-width="0.3">SM</text>
<text transform="translate(164.62,358.80) scale(1.1007,1)" font-size="11.370" font-weight="bold" fill="#111" stroke="#111" stroke-width="0.3">24h</text>
<text transform="translate(209.72,378.48) scale(1.0311,1)" font-size="11.757" font-weight="bold" fill="#111" stroke="#111" stroke-width="0.3">Control</text>
<text transform="translate(449.68,270.63) scale(0.9619,1)" font-size="11.972" fill="#2a2a2a" stroke="#2a2a2a" stroke-width="0.25">10</text>
<text transform="translate(464.22,262.77) scale(0.7764,1)" font-size="11.618" fill="#2a2a2a" stroke="#2a2a2a" stroke-width="0.25">4</text>
<text transform="translate(511.98,270.63) scale(0.9619,1)" font-size="11.972" fill="#2a2a2a" stroke="#2a2a2a" stroke-width="0.25">10</text>
<text transform="translate(526.31,262.54) scale(0.8672,1)" font-size="11.286" fill="#2a2a2a" stroke="#2a2a2a" stroke-width="0.25">5</text>
<text transform="translate(584.98,270.63) scale(0.9619,1)" font-size="11.972" fill="#2a2a2a" stroke="#2a2a2a" stroke-width="0.25">10</text>
<text transform="translate(599.20,262.54) scale(0.8987,1)" font-size="11.127" fill="#2a2a2a" stroke="#2a2a2a" stroke-width="0.25">6</text>
<text transform="translate(657.98,270.63) scale(0.9619,1)" font-size="11.972" fill="#2a2a2a" stroke="#2a2a2a" stroke-width="0.25">10</text>
<text transform="translate(672.20,262.77) scale(0.8608,1)" font-size="11.618" fill="#2a2a2a" stroke="#2a2a2a" stroke-width="0.25">7</text>
<text transform="translate(426.79,248.02) scale(0.9915,1)" font-size="12.817" fill="#2a2a2a" stroke="#2a2a2a" stroke-width="0.25">0</text>
<text transform="translate(523.61,289.15) scale(1.0000,1)" font-size="11.159" letter-spacing="0.556" fill="#2a2a2a" stroke="#2a2a2a" stroke-width="0.25">FL1-H:: FL1-H</text>
<text transform="translate(404.12,151.63) rotate(-90) scale(0.7932,1)" font-size="13.380" fill="#2a2a2a" stroke="#2a2a2a" stroke-width="0.25">Count</text>
<text transform="translate(467.63,49.48) scale(1.0091,1)" font-size="11.690" font-weight="bold" fill="#111" stroke="#111" stroke-width="0.3">CHX</text>
<text transform="translate(512.62,43.28) scale(1.0356,1)" font-size="11.622" font-weight="bold" fill="#111" stroke="#111" stroke-width="0.3">Control</text>
<text transform="translate(573.42,42.68) scale(1.0362,1)" font-size="11.549" font-weight="bold" fill="#111" stroke="#111" stroke-width="0.3">CD30L</text>
<text transform="translate(585.26,57.68) scale(1.0002,1)" font-size="11.757" font-weight="bold" fill="#111" stroke="#111" stroke-width="0.3">3h</text>
<text transform="translate(451.08,569.93) scale(0.9850,1)" font-size="11.690" fill="#2a2a2a" stroke="#2a2a2a" stroke-width="0.25">10</text>
<text transform="translate(465.62,562.67) scale(0.7764,1)" font-size="11.618" fill="#2a2a2a" stroke="#2a2a2a" stroke-width="0.25">4</text>
<text transform="translate(512.88,569.93) scale(0.9850,1)" font-size="11.690" fill="#2a2a2a" stroke="#2a2a2a" stroke-width="0.25">10</text>
<text transform="translate(527.21,562.44) scale(0.8672,1)" font-size="11.286" fill="#2a2a2a" stroke="#2a2a2a" stroke-width="0.25">5</text>
<text transform="translate(585.38,569.93) scale(0.9850,1)" font-size="11.690" fill="#2a2a2a" stroke="#2a2a2a" stroke-width="0.25">10</text>
<text transform="translate(599.60,562.44) scale(0.8987,1)" font-size="11.127" fill="#2a2a2a" stroke="#2a2a2a" stroke-width="0.25">6</text>
<text transform="translate(657.88,569.93) scale(0.9850,1)" font-size="11.690" fill="#2a2a2a" stroke="#2a2a2a" stroke-width="0.25">10</text>
<text transform="translate(672.10,562.67) scale(0.8608,1)" font-size="11.618" fill="#2a2a2a" stroke="#2a2a2a" stroke-width="0.25">7</text>
<text transform="translate(429.18,547.23) scale(0.8671,1)" font-size="12.254" fill="#2a2a2a" stroke="#2a2a2a" stroke-width="0.25">0</text>
<text transform="translate(524.61,588.15) scale(1.0000,1)" font-size="11.159" letter-spacing="0.356" fill="#2a2a2a" stroke="#2a2a2a" stroke-width="0.25">FL1-H:: FL1-H</text>
<text transform="translate(406.51,451.82) rotate(-90) scale(0.7684,1)" font-size="13.662" fill="#2a2a2a" stroke="#2a2a2a" stroke-width="0.25">Count</text>
<text transform="translate(467.73,361.48) scale(0.9587,1)" font-size="12.254" font-weight="bold" fill="#111" stroke="#111" stroke-width="0.3">CHX</text>
<text transform="translate(508.92,340.88) scale(0.9880,1)" font-size="12.113" font-weight="bold" fill="#111" stroke="#111" stroke-width="0.3">CD30L</text>
<text transform="translate(517.75,355.60) scale(1.0306,1)" font-size="11.370" font-weight="bold" fill="#111" stroke="#111" stroke-width="0.3">24h</text>
<text transform="translate(566.61,354.68) scale(0.9881,1)" font-size="12.297" font-weight="bold" fill="#111" stroke="#111" stroke-width="0.3">Control</text>
<text transform="translate(62.13,895.46) scale(0.8663,1)" font-size="13.662" font-weight="bold" fill="#111" stroke="#111" stroke-width="0.3">-20</text>
<text transform="translate(72.95,859.36) scale(0.8248,1)" font-size="13.662" font-weight="bold" fill="#111" stroke="#111" stroke-width="0.3">0</text>
<text transform="translate(66.36,823.26) scale(0.8443,1)" font-size="13.662" font-weight="bold" fill="#111" stroke="#111" stroke-width="0.3">20</text>
<text transform="translate(66.48,787.16) scale(0.8362,1)" font-size="13.662" font-weight="bold" fill="#111" stroke="#111" stroke-width="0.3">40</text>
<text transform="translate(66.24,751.06) scale(0.8525,1)" font-size="13.662" font-weight="bold" fill="#111" stroke="#111" stroke-width="0.3">60</text>
<text transform="translate(66.36,714.96) scale(0.8443,1)" font-size="13.662" font-weight="bold" fill="#111" stroke="#111" stroke-width="0.3">80</text>
<text transform="translate(59.29,678.86) scale(0.8716,1)" font-size="13.662" font-weight="bold" fill="#111" stroke="#111" stroke-width="0.3">100</text>
<text transform="translate(59.29,642.76) scale(0.8716,1)" font-size="13.662" font-weight="bold" fill="#111" stroke="#111" stroke-width="0.3">120</text>
<text transform="translate(116.72,875.40) scale(0.8229,1)" font-size="17.500" font-weight="bold" fill="#111" stroke="#111" stroke-width="0.3">-</text>
<text transform="translate(162.41,874.46) scale(0.9529,1)" font-size="13.514" font-weight="bold" fill="#111" stroke="#111" stroke-width="0.3">SM 3h</text>
<text transform="translate(221.22,874.46) scale(0.9288,1)" font-size="13.514" font-weight="bold" fill="#111" stroke="#111" stroke-width="0.3">SM 24h</text>
<text transform="translate(291.50,874.46) scale(0.9061,1)" font-size="13.662" font-weight="bold" fill="#111" stroke="#111" stroke-width="0.3">CHX</text>
<text transform="translate(286.65,890.37) scale(0.9833,1)" font-size="12.703" font-weight="bold" fill="#111" stroke="#111" stroke-width="0.3">30min</text>
<text transform="translate(178.20,651.38) scale(0.8650,1)" font-size="18.378" font-weight="bold" fill="#111" stroke="#111" stroke-width="0.15">*</text>
<text transform="translate(147.10,671.05) scale(0.7861,1)" font-size="18.919" font-weight="bold" fill="#111" stroke="#111" stroke-width="0.15">*</text>
<text transform="translate(200.93,696.86) scale(0.9818,1)" font-size="14.182" font-weight="bold" fill="#111" stroke="#111" stroke-width="0.3">n.s.</text>
<text transform="translate(36.16,850.84) rotate(-90) scale(0.9843,1)" font-size="13.649" font-weight="bold" fill="#111" stroke="#111" stroke-width="0.3">Normalized Relative Rate of</text>
<text transform="translate(49.98,819.53) rotate(-90) scale(1.2044,1)" font-size="11.064" font-weight="bold" fill="#111" stroke="#111" stroke-width="0.3">Protein Synthesis</text>
<text transform="translate(450.16,893.22) scale(0.8870,1)" font-size="13.239" font-weight="bold" fill="#111" stroke="#111" stroke-width="0.3">-20</text>
<text transform="translate(460.92,865.37) scale(0.8417,1)" font-size="13.239" font-weight="bold" fill="#111" stroke="#111" stroke-width="0.3">0</text>
<text transform="translate(454.39,837.52) scale(0.8621,1)" font-size="13.239" font-weight="bold" fill="#111" stroke="#111" stroke-width="0.3">20</text>
<text transform="translate(454.50,809.67) scale(0.8539,1)" font-size="13.239" font-weight="bold" fill="#111" stroke="#111" stroke-width="0.3">40</text>
<text transform="translate(454.27,781.82) scale(0.8705,1)" font-size="13.239" font-weight="bold" fill="#111" stroke="#111" stroke-width="0.3">60</text>
<text transform="translate(454.39,753.97) scale(0.8621,1)" font-size="13.239" font-weight="bold" fill="#111" stroke="#111" stroke-width="0.3">80</text>
<text transform="translate(447.39,726.12) scale(0.8902,1)" font-size="13.239" font-weight="bold" fill="#111" stroke="#111" stroke-width="0.3">100</text>
<text transform="translate(447.39,698.27) scale(0.8902,1)" font-size="13.239" font-weight="bold" fill="#111" stroke="#111" stroke-width="0.3">120</text>
<text transform="translate(447.39,670.42) scale(0.8902,1)" font-size="13.239" font-weight="bold" fill="#111" stroke="#111" stroke-width="0.3">140</text>
<text transform="translate(447.39,642.57) scale(0.8902,1)" font-size="13.239" font-weight="bold" fill="#111" stroke="#111" stroke-width="0.3">160</text>
<text transform="translate(504.52,881.30) scale(0.8000,1)" font-size="15.000" font-weight="bold" fill="#111" stroke="#111" stroke-width="0.3">-</text>
<text transform="translate(539.80,880.98) scale(1.0050,1)" font-size="12.432" font-weight="bold" fill="#111" stroke="#111" stroke-width="0.3">CD30L 3h</text>
<text transform="translate(609.70,880.97) scale(0.9585,1)" font-size="12.958" font-weight="bold" fill="#111" stroke="#111" stroke-width="0.3">CD30L</text>
<text transform="translate(618.63,897.60) scale(0.9892,1)" font-size="12.466" font-weight="bold" fill="#111" stroke="#111" stroke-width="0.3">24h</text>
<text transform="translate(677.42,880.77) scale(0.9431,1)" font-size="12.817" font-weight="bold" fill="#111" stroke="#111" stroke-width="0.3">CHX</text>
<text transform="translate(672.75,896.48) scale(1.0564,1)" font-size="11.757" font-weight="bold" fill="#111" stroke="#111" stroke-width="0.3">30min</text>
<text transform="translate(564.10,651.07) scale(0.8937,1)" font-size="18.649" font-weight="bold" fill="#111" stroke="#111" stroke-width="0.15">*</text>
<text transform="translate(526.03,664.45) scale(0.9573,1)" font-size="14.545" font-weight="bold" fill="#111" stroke="#111" stroke-width="0.3">n.s.</text>
<text transform="translate(424.47,850.44) rotate(-90) scale(1.0488,1)" font-size="12.838" font-weight="bold" fill="#111" stroke="#111" stroke-width="0.3">Normalized Relative Rate of</text>
<text transform="translate(438.08,819.03) rotate(-90) scale(1.2022,1)" font-size="11.064" font-weight="bold" fill="#111" stroke="#111" stroke-width="0.3">Protein Synthesis</text>
</svg>
</body></html>
